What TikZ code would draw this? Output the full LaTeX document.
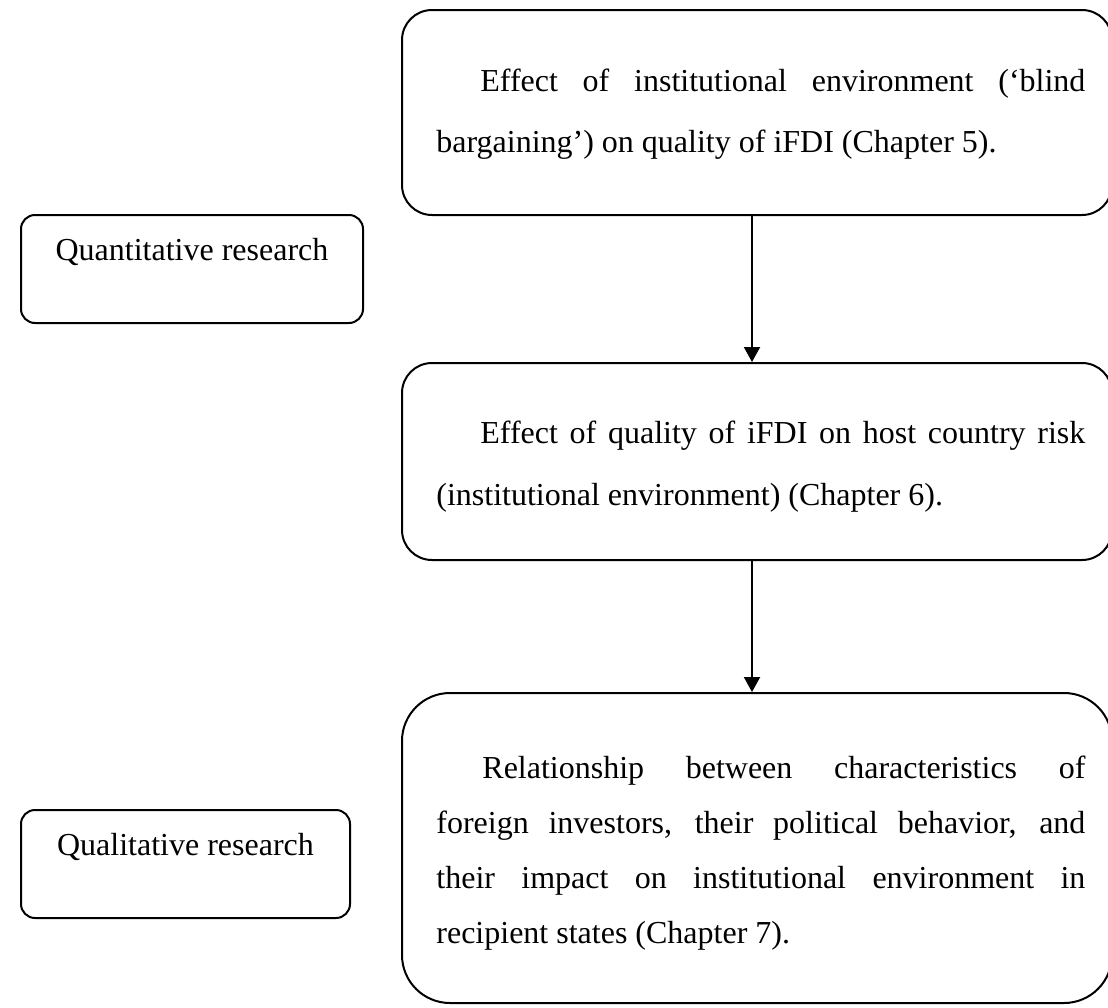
\documentclass[tikz,border=0pt]{standalone}
\usepackage{fontspec}
\setmainfont{Liberation Serif}
\usetikzlibrary{arrows.meta}
\begin{document}
\begin{tikzpicture}[x=0.5pt,y=-0.5pt,
  frame/.style={draw=black, line width=1pt, rounded corners=15pt, inner sep=0pt},
  txt/.style={font=\fontsize{16}{18}\selectfont, inner sep=0pt, anchor=base west},
  ctxt/.style={font=\fontsize{16}{18}\selectfont, inner sep=0pt, anchor=base},
  flow/.style={-{Triangle[width=8pt,length=7.5pt]}, line width=1pt}
]
\useasboundingbox (0,0) rectangle (1108,1007);
\clip (0,0) rectangle (1108,1007);

% chapter boxes on the right
\node[frame, minimum width=355pt, minimum height=102.5pt] (box1) at (757,112.5) {};
\node[frame, minimum width=355pt, minimum height=98.5pt] (box2) at (757,461.5) {};
\node[frame, rounded corners=24pt, minimum width=355pt, minimum height=155pt] (box3) at (757,848) {};

% method boxes on the left
\node[frame, rounded corners=7pt, minimum width=171pt, minimum height=54pt] (quant) at (192,269) {};
\node[frame, rounded corners=7pt, minimum width=164.5pt, minimum height=54pt] (qual) at (185.5,864) {};

% texts of the chapter boxes
\node[txt] (a1) at (480,91) {\makebox[302.5pt][s]{Effect of institutional environment (‘blind}};
\node[txt] (a2) at (436,152) {bargaining’) on quality of iFDI (Chapter 5).};

\node[txt] (b1) at (480,443) {\makebox[302.5pt][s]{Effect of quality of iFDI on host country risk}};
\node[txt] (b2) at (436,505) {(institutional environment) (Chapter 6).};

\node[txt] (c1) at (482,778) {\makebox[301.5pt][s]{Relationship between characteristics of}};
\node[txt] (c2) at (436,833) {\makebox[324.5pt][s]{foreign investors, their political behavior, and}};
\node[txt] (c3) at (436,888) {\makebox[324.5pt][s]{their impact on institutional environment in}};
\node[txt] (c4) at (436,943) {recipient states (Chapter 7).};

% texts of the method boxes
\node[ctxt] (qt) at (192,260) {Quantitative research};
\node[ctxt] (ql) at (185.5,855) {Qualitative research};

% connectors
\draw[flow] ([xshift=-2.5pt]box1.south) -- ([xshift=-2.5pt]box2.north);
\draw[flow] ([xshift=-2.5pt]box2.south) -- ([xshift=-2.5pt]box3.north);
\end{tikzpicture}
\end{document}
